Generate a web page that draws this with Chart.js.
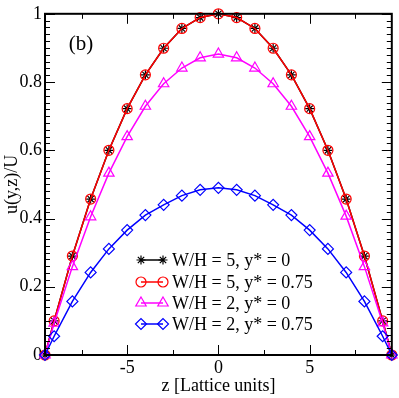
<!DOCTYPE html>
<html>
<head>
<meta charset="utf-8">
<script src="https://cdn.jsdelivr.net/npm/chart.js@4.4.1/dist/chart.umd.min.js"></script>
<style>
html,body{margin:0;padding:0;background:#fff;}
#wrap{width:399px;height:398px;}
</style>
</head>
<body>
<div id="wrap"><canvas id="c" width="399" height="398"></canvas></div>
<script>
// ---- data ----
const zValues = [-9.5, -9, -8, -7, -6, -5, -4, -3, -2, -1, 0, 1, 2, 3, 4, 5, 6, 7, 8, 9, 9.5];
const wh5_y0    = [0, 0.100, 0.290, 0.457, 0.600, 0.722, 0.821, 0.899, 0.957, 0.989, 1.000, 0.989, 0.957, 0.899, 0.821, 0.722, 0.600, 0.457, 0.290, 0.100, 0];
const wh5_y075  = [0, 0.100, 0.290, 0.457, 0.600, 0.722, 0.821, 0.899, 0.957, 0.989, 1.000, 0.989, 0.957, 0.899, 0.821, 0.722, 0.600, 0.457, 0.290, 0.100, 0];
const wh2_y0    = [0, 0.093, 0.259, 0.405, 0.533, 0.640, 0.729, 0.795, 0.841, 0.871, 0.882, 0.871, 0.841, 0.795, 0.729, 0.640, 0.533, 0.407, 0.259, 0.094, 0];
const wh2_y075  = [0, 0.055, 0.157, 0.242, 0.311, 0.366, 0.410, 0.440, 0.467, 0.484, 0.490, 0.484, 0.467, 0.440, 0.410, 0.366, 0.311, 0.242, 0.157, 0.055, 0];
const seriesLabels = ["W/H = 5, y* = 0", "W/H = 5, y* = 0.75", "W/H = 2, y* = 0", "W/H = 2, y* = 0.75"];
const xTickValues = [-5, 0, 5];
const xMinorValues = [-7.5, -2.5, 2.5, 7.5];
const yTickValues = [0, 0.2, 0.4, 0.6, 0.8, 1];
const xTitle = "z [Lattice units]";
const yTitle = "u(y,z)/U";
const panelLabel = "(b)";

const FONT = "'Liberation Serif', 'Times New Roman', serif";
Chart.defaults.font.family = FONT;
Chart.defaults.font.size = 18;
Chart.defaults.color = '#000';

function pts(vals){ return zValues.map((z,i)=>({x:z, y:vals[i]})); }

const styles = [
  {color:'#000000', pointStyle:'star', radius:4.5, order:4},
  {color:'#ff0000', pointStyle:'circle', radius:5, order:3},
  {color:'#ff00ff', pointStyle:'triangle', radius:6, order:2},
  {color:'#0000ff', pointStyle:'rectRot', radius:5.5, order:1}
];
const series = [wh5_y0, wh5_y075, wh2_y0, wh2_y075];

const datasets = series.map((vals,i)=>({
  label: seriesLabels[i],
  data: pts(vals),
  borderColor: styles[i].color,
  backgroundColor: 'rgba(0,0,0,0)',
  borderWidth: 1.5,
  pointStyle: styles[i].pointStyle,
  pointRadius: styles[i].radius,
  pointBorderColor: styles[i].color,
  pointBackgroundColor: 'rgba(0,0,0,0)',
  pointBorderWidth: 1.2,
  tension: 0,
  order: styles[i].order,
  clip: false
}));

const decor = {
  id: 'decor',
  afterDraw(chart){
    const ctx = chart.ctx;
    const a = chart.chartArea;
    const xs = chart.scales.x, ys = chart.scales.y;
    ctx.save();
    ctx.strokeStyle = '#000';
    ctx.lineWidth = 1;
    // inward ticks
    const majorL = 10, minorL = 5;
    ctx.beginPath();
    xTickValues.forEach(v=>{
      const p = Math.round(xs.getPixelForValue(v))+0.5;
      ctx.moveTo(p, a.bottom); ctx.lineTo(p, a.bottom-majorL);
      ctx.moveTo(p, a.top); ctx.lineTo(p, a.top+majorL);
    });
    xMinorValues.forEach(v=>{
      const p = Math.round(xs.getPixelForValue(v))+0.5;
      ctx.moveTo(p, a.bottom); ctx.lineTo(p, a.bottom-minorL);
      ctx.moveTo(p, a.top); ctx.lineTo(p, a.top+minorL);
    });
    for (let k=0;k<=50;k++){
      const v = k*0.02;
      const isMajor = (k%10)===0;
      const L = isMajor ? majorL : minorL;
      const p = Math.round(ys.getPixelForValue(v))+0.5;
      ctx.moveTo(a.left, p); ctx.lineTo(a.left+L, p);
      ctx.moveTo(a.right, p); ctx.lineTo(a.right-L, p);
    }
    ctx.stroke();
    // frame
    ctx.lineWidth = 2;
    ctx.strokeRect(a.left, a.top, a.right-a.left, a.bottom-a.top);

    // titles
    ctx.fillStyle = '#000';
    ctx.font = "18px " + FONT;
    ctx.textAlign = 'center';
    ctx.textBaseline = 'middle';
    ctx.fillText(xTitle, (a.left+a.right)/2, 386);
    ctx.save();
    ctx.translate(12, (a.top+a.bottom)/2);
    ctx.rotate(-Math.PI/2);
    ctx.fillText(yTitle, 0, 0);
    ctx.restore();
    ctx.font = "21px " + FONT;
    ctx.fillText(panelLabel, 81, 44);

    // legend
    const rows = [260, 282, 303, 324];
    const x1 = 141, x2 = 163, tx = 172;
    ctx.font = "18px " + FONT;
    ctx.textAlign = 'left';
    ctx.textBaseline = 'middle';
    rows.forEach((ry,i)=>{
      const st = styles[i];
      ctx.strokeStyle = st.color;
      ctx.lineWidth = 1.5;
      ctx.beginPath(); ctx.moveTo(x1, ry); ctx.lineTo(x2, ry); ctx.stroke();
      ctx.fillStyle = 'rgba(0,0,0,0)';
      ctx.lineWidth = 1.2;
      [x1,x2].forEach(px=>{
        Chart.helpers.drawPoint(ctx, {pointStyle: st.pointStyle, radius: st.radius, rotation: 0, borderWidth: 1.2}, px, ry);
      });
      ctx.fillStyle = '#000';
      ctx.fillText(seriesLabels[i], tx, ry+1);
    });
    ctx.restore();
  }
};

new Chart(document.getElementById('c'), {
  type: 'line',
  data: { datasets },
  options: {
    responsive: false,
    animation: false,
    events: [],
    layout: { padding: { left: 0, right: 7, top: 8, bottom: 0 } },
    plugins: { legend: { display: false }, tooltip: { enabled: false } },
    scales: {
      x: {
        type: 'linear', min: -9.5, max: 9.5,
        grid: { display: false, drawTicks: false },
        border: { display: false },
        afterBuildTicks: s => { s.ticks = xTickValues.map(v=>({value:v})); },
        afterFit: s => { s.height = 43; },
        ticks: { padding: 2, maxRotation: 0, autoSkip: false, callback: v => String(v) }
      },
      y: {
        type: 'linear', min: 0, max: 1,
        grid: { display: false, drawTicks: false },
        border: { display: false },
        afterBuildTicks: s => { s.ticks = yTickValues.map(v=>({value:v})); },
        afterFit: s => { s.width = 45; },
        ticks: { padding: 3, autoSkip: false, callback: v => String(Math.round(v*10)/10) }
      }
    }
  },
  plugins: [decor]
});
</script>
</body>
</html>
